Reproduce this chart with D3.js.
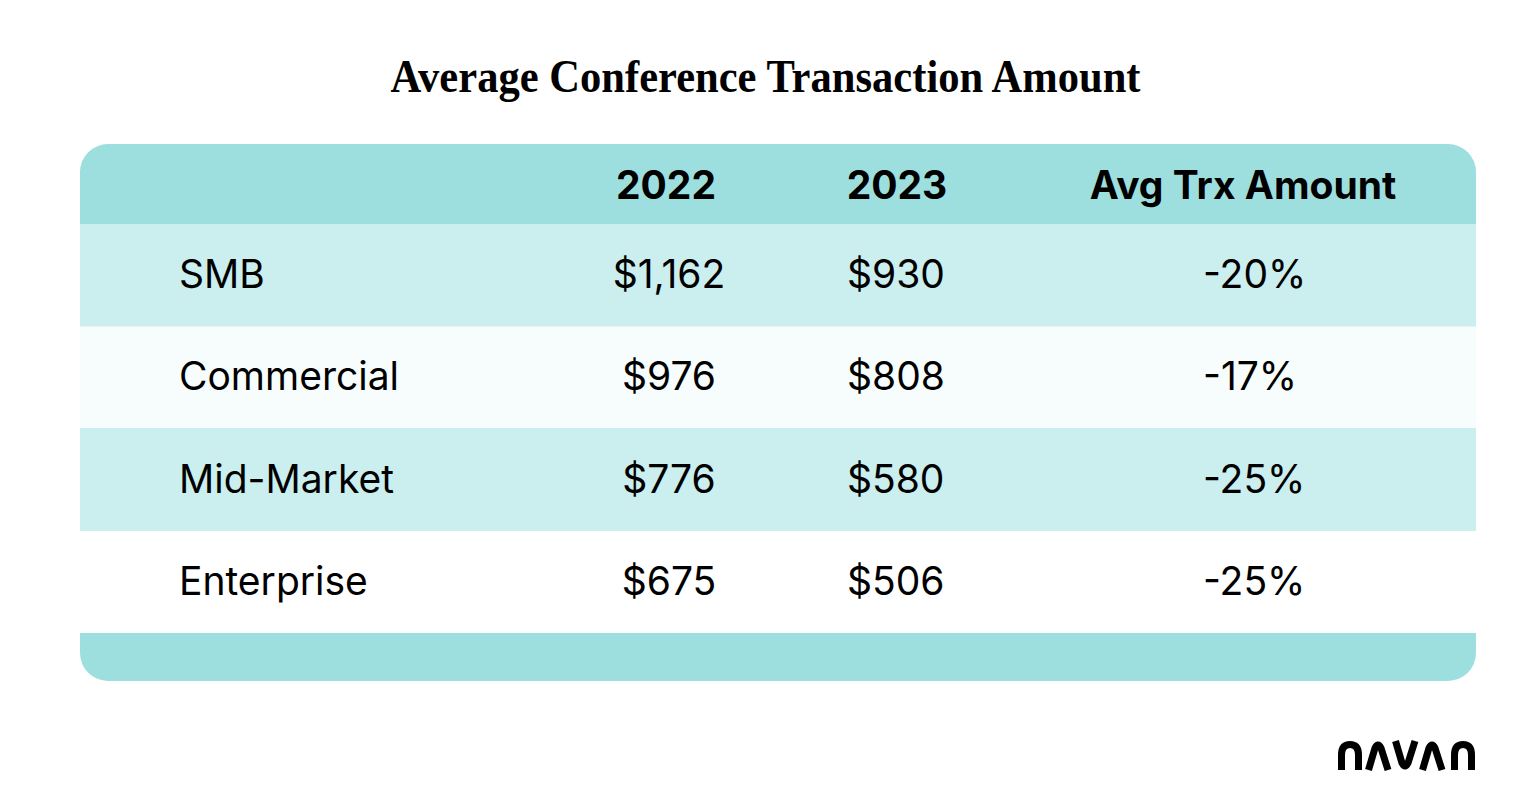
<!DOCTYPE html>
<html>
<head>
<meta charset="utf-8">
<script src="https://cdn.jsdelivr.net/npm/d3@7"></script>
<style>
  body { margin: 0; background: #fff; }
  svg { display: block; }
</style>
</head>
<body>
<script>
// table content
var title = "Average Conference Transaction Amount";
var headers = ["", "2022", "2023", "Avg Trx Amount"];
var segments = ["SMB", "Commercial", "Mid-Market", "Enterprise"];
var amounts2022 = ["$1,162", "$976", "$776", "$675"];
var amounts2023 = ["$930", "$808", "$580", "$506"];
var changes = ["-20%", "-17%", "-25%", "-25%"];

var W = 1537, H = 808;
var svg = d3.select("body").append("svg").attr("width", W).attr("height", H);

// note: "top" is taken by window, so use tblTop etc
var tblLeft = 80, tblRight = 1476, tblTop = 144, headBottom = 224, bodyBottom = 633, tblBottom = 681;
var headColor = "#9ddfdf";
var rowColors = ["#cbeeef", "#f7fdfd", "#cbeeef", "#ffffff"];

// title
svg.append("text")
    .attr("x", W / 2 - 3)
    .attr("y", 92)
    .attr("text-anchor", "middle")
    .attr("textLength", 750)
    .attr("lengthAdjust", "spacingAndGlyphs")
    .style("font-family", "'Liberation Serif', 'DejaVu Serif', serif")
    .style("font-weight", 700)
    .style("font-size", "47px")
    .style("fill", "#000")
    .text(title);

// outer rounded shape gives header + footer
svg.append("rect")
    .attr("x", tblLeft).attr("y", tblTop)
    .attr("width", tblRight - tblLeft).attr("height", tblBottom - tblTop)
    .attr("rx", 28).attr("ry", 28)
    .style("fill", headColor);

var y = d3.scaleBand()
    .domain(segments)
    .range([headBottom, bodyBottom]);

svg.selectAll("rect.row")
    .data(segments)
    .enter().append("rect")
    .attr("class", "row")
    .attr("x", tblLeft)
    .attr("y", function(d) { return y(d); })
    .attr("width", tblRight - tblLeft)
    .attr("height", y.bandwidth())
    .style("fill", function(d, i) { return rowColors[i]; });

var font = "Inter, 'Liberation Sans', Arial, sans-serif";

var headX = [null, 666, 897, 1243];

svg.selectAll("text.head")
    .data(headers.slice(1))
    .enter().append("text")
    .attr("class", "head")
    .attr("x", function(d, i) { return headX[i + 1]; })
    .attr("y", 199)
    .attr("text-anchor", "middle")
    .style("font-family", font)
    .style("font-weight", 700)
    .style("font-size", "39px")
    .style("fill", "#000")
    .text(function(d) { return d; });

var cols = [
    {vals: segments, x: 179, anchor: "start"},
    {vals: amounts2022, x: 669, anchor: "middle"},
    {vals: amounts2023, x: 847, anchor: "start"},
    {vals: changes, x: 1203, anchor: "start"}
];

cols.forEach(function(col) {
    svg.append("g").selectAll("text")
        .data(col.vals)
        .enter().append("text")
        .attr("x", col.x)
        .attr("y", function(d, i) { return y(segments[i]) + y.bandwidth() / 2 + 13; })
        .attr("text-anchor", col.anchor)
        .style("font-family", font)
        .style("font-weight", 400)
        .style("font-size", "39px")
        .style("fill", "#000")
        .text(function(d) { return d; });
});

// navan logo, drawn with strokes
var logo = svg.append("g")
    .attr("transform", "translate(1338,741)")
    .style("fill", "none")
    .style("stroke", "#000")
    .style("stroke-width", 7);
var letters = [
    {dx: 0,   d: "M3.5,29 V14 Q3.5,3.5 12,3.5 Q20.5,3.5 20.5,14 V29"},
    {dx: 27,  d: "M3.5,29 L10,7 Q13,1 16,7 L23,29"},
    {dx: 54,  d: "M3.5,0 L10,22 Q13,28 16,22 L23,0"},
    {dx: 81,  d: "M3.5,29 L10,7 Q13,1 16,7 L23,29"},
    {dx: 113, d: "M3.5,29 V14 Q3.5,3.5 12,3.5 Q20.5,3.5 20.5,14 V29"}
];
logo.selectAll("path")
    .data(letters)
    .enter().append("path")
    .attr("transform", function(d) { return "translate(" + d.dx + ",0)"; })
    .attr("stroke-linejoin", "round")
    .attr("d", function(d) { return d.d; });
</script>
</body>
</html>
